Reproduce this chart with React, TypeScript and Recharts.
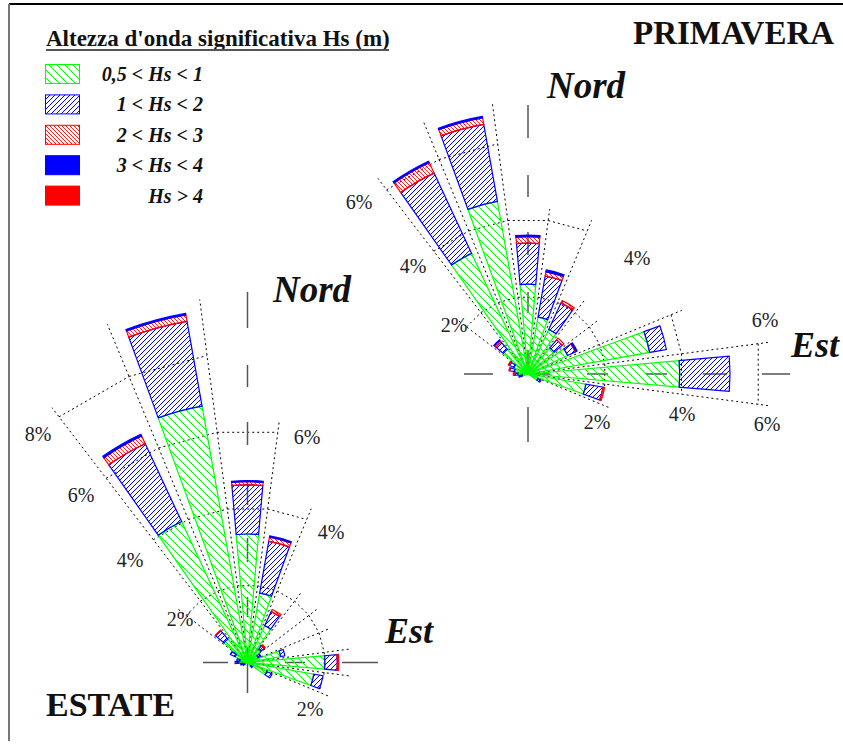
import React from 'react';
import { RadialBarChart, RadialBar, PolarAngleAxis, PolarRadiusAxis, Sector } from 'recharts';

// directions (degrees from north, clockwise), 15° bins
const directions = ['0', '15', '30', '45', '60', '75', '90', '105', '120', '135', '150', '165', '180', '195', '210', '225', '240', '255', '270', '285', '300', '315', '330', '345'];

// PRIMAVERA - frequency (%) per Hs class
const springLow = [2.32, 1.49, 1.27, 0.88, 1.13, 3.19, 3.92, 1.52, 0.28, 0, 0, 0, 0, 0, 0, 0, 0, 0.15, 0.26, 0.35, 0.4, 0.83, 3.44, 4.53];
const springMid = [1.06, 1.08, 0.75, 0.27, 0.22, 0.44, 1.3, 0.45, 0.09, 0, 0, 0, 0, 0, 0, 0, 0, 0.09, 0.1, 0.13, 0.14, 0.25, 2.29, 2.02];
const springHigh = [0.17, 0.11, 0.07, 0.06, 0.02, 0, 0, 0.04, 0, 0, 0, 0, 0, 0, 0, 0, 0, 0, 0.02, 0.02, 0.02, 0.05, 0.3, 0.17];
const springVeryHigh = [0.04, 0.05, 0, 0, 0.03, 0, 0, 0, 0, 0, 0, 0, 0, 0, 0, 0, 0, 0, 0, 0, 0, 0.02, 0.04, 0.04];
const springExtreme = [0, 0, 0, 0, 0, 0, 0, 0, 0, 0, 0, 0, 0, 0, 0, 0, 0, 0, 0, 0, 0, 0, 0, 0];

// ESTATE - frequency (%) per Hs class
const summerLow = [3.32, 1.82, 1.05, 0.45, 0.3, 0.87, 2.0, 1.74, 0.55, 0.12, 0, 0, 0, 0, 0, 0, 0.08, 0.12, 0.22, 0.2, 0.35, 0.79, 4.02, 6.73];
const summerMid = [1.27, 1.36, 0.4, 0.12, 0.08, 0.11, 0.32, 0.24, 0.15, 0.05, 0, 0, 0, 0, 0, 0, 0.05, 0.06, 0.1, 0.08, 0.14, 0.28, 2.22, 2.22];
const summerHigh = [0.08, 0.11, 0.06, 0.03, 0, 0, 0, 0, 0, 0, 0, 0, 0, 0, 0, 0, 0, 0, 0, 0, 0, 0.02, 0.22, 0.17];
const summerVeryHigh = [0.03, 0.03, 0, 0, 0, 0, 0, 0, 0, 0, 0, 0, 0, 0, 0, 0, 0, 0, 0, 0, 0, 0, 0.05, 0.04];
const summerExtreme = [0, 0, 0, 0, 0, 0, 0.04, 0, 0, 0, 0, 0, 0, 0, 0, 0, 0, 0, 0, 0, 0, 0, 0, 0];

const classLabels = ['0,5 < Hs < 1', '1 < Hs < 2', '2 < Hs < 3', '3 < Hs < 4', 'Hs > 4'];
const classKeys = ['low', 'mid', 'high', 'veryHigh', 'extreme'];
const classFills = ['url(#hGreen)', 'url(#hBlue)', 'url(#hRed)', '#0000ff', '#ff0000'];
const classStrokes = ['#00ff00', '#0000ff', '#ff0000', '#0000ff', '#ff0000'];

const ringLabelsSpring = [['6%', 359, 202], ['4%', 413, 266], ['2%', 454, 325], ['4%', 637, 258], ['6%', 765, 320], ['2%', 597, 422], ['4%', 682, 414], ['6%', 767, 424]];
const ringLabelsSummer = [['8%', 38, 434], ['6%', 81, 495], ['4%', 130, 560], ['2%', 180, 619], ['6%', 307, 437], ['4%', 331, 532], ['2%', 310, 709]];

const build = (a: number[], b: number[], c: number[], d: number[], e: number[]) =>
  directions.map((dir, i) => ({ dir, low: a[i], mid: b[i], high: c[i], veryHigh: d[i], extreme: e[i] }));

const springData = build(springLow, springMid, springHigh, springVeryHigh, springExtreme);
const summerData = build(summerLow, summerMid, summerHigh, summerVeryHigh, summerExtreme);

const K = 38.7; // px per 1%
const W = 843;
const H = 744;
const SPRING = { cx: 528, cy: 374 };
const SUMMER = { cx: 247.5, cy: 662.5 };

const springRings = [
  { level: 2, from: 307.5, to: 112.5 },
  { level: 4, from: 322.5, to: 22.5 },
  { level: 4, from: 67.5, to: 97.5 },
  { level: 6, from: 322.5, to: 352.5 },
  { level: 6, from: 82.5, to: 97.5 },
];
const summerRings = [
  { level: 2, from: 307.5, to: 112.5 },
  { level: 4, from: 322.5, to: 22.5 },
  { level: 6, from: 322.5, to: 7.5 },
  { level: 8, from: 322.5, to: 352.5 },
];

const springAxisV = [[105, 138], [175, 197], [232, 255], [292, 313], [350, 373], [407, 442]];
const springAxisH = [[464, 493], [530, 550], [587, 608], [646, 667], [703, 727], [762, 790]];
const summerAxisV = [[292, 328], [365, 387], [422, 445], [482, 505], [538, 562], [597, 617], [647, 693]];
const summerAxisH = [[203, 228], [236, 256], [285, 305], [342, 378]];

const pt = (cx: number, cy: number, pct: number, deg: number) => {
  const a = (deg * Math.PI) / 180;
  return [cx + pct * K * Math.sin(a), cy - pct * K * Math.cos(a)];
};

function RoseGrid({ cx, cy, data, rings }: any) {
  const norm = (x: number) => ((x % 360) + 360) % 360;
  const angles = directions.map(Number);
  const covered = (c: number, r: any) => norm(c - r.from) < norm(r.to - r.from);
  const totals = data.map((d: any) => d.low + d.mid + d.high + d.veryHigh + d.extreme);
  const top = angles.map((c) => Math.max(0, ...rings.filter((r: any) => covered(c, r)).map((r: any) => r.level)));
  const dot = { stroke: '#000', strokeWidth: 1, strokeDasharray: '2 3', fill: 'none' };
  const els: any[] = [];
  rings.forEach((r: any, ri: number) =>
    angles.forEach((c, i) => {
      if (!covered(c, r)) return;
      const [x1, y1] = pt(cx, cy, r.level, c - 7.5);
      const [x2, y2] = pt(cx, cy, r.level, c + 7.5);
      els.push(<line key={`c${ri}-${i}`} x1={x1} y1={y1} x2={x2} y2={y2} {...dot} />);
    })
  );
  angles.forEach((c, i) => {
    const j = (i + 23) % 24;
    const t = Math.max(top[i], top[j]);
    if (t <= 0) return;
    const len = Math.max(t, totals[i], totals[j]) + 0.3;
    const [x, y] = pt(cx, cy, len, c - 7.5);
    els.push(<line key={`r${i}`} x1={cx} y1={cy} x2={x} y2={y} {...dot} />);
  });
  return <g>{els}</g>;
}

function Axes({ cx, cy, v, h }: any) {
  const st = { stroke: '#555', strokeWidth: 1.5 };
  return (
    <g>
      {v.map((s: number[], i: number) => <line key={`v${i}`} x1={cx} x2={cx} y1={s[0]} y2={s[1]} {...st} />)}
      {h.map((s: number[], i: number) => <line key={`h${i}`} y1={cy} y2={cy} x1={s[0]} x2={s[1]} {...st} />)}
    </g>
  );
}

const makeShape = (fill: string, stroke: string) => (p: any) => {
  if (!(p.outerRadius - p.innerRadius > 0.1)) return <g />;
  return (
    <Sector cx={p.cx} cy={p.cy} innerRadius={p.innerRadius} outerRadius={p.outerRadius}
      startAngle={p.startAngle} endAngle={p.endAngle} fill={fill} stroke={stroke} strokeWidth={1.2} />
  );
};

function Rose({ data, cx, cy }: any) {
  return (
    <RadialBarChart width={W} height={H} data={data} layout="centric" cx={cx} cy={cy}
      innerRadius={0} outerRadius={10 * K} startAngle={82.5} endAngle={-277.5}
      barCategoryGap="17%" margin={{ top: 0, right: 0, bottom: 0, left: 0 }}>
      <PolarAngleAxis type="category" dataKey="dir" tick={false} axisLine={false} tickLine={false} />
      <PolarRadiusAxis type="number" domain={[0, 10]} allowDataOverflow tick={false} axisLine={false} />
      {classKeys.map((k, i) => (
        <RadialBar key={k} dataKey={k} stackId="a" fill={classFills[i]} stroke={classStrokes[i]}
          isAnimationActive={false} shape={makeShape(classFills[i], classStrokes[i])} />
      ))}
    </RadialBarChart>
  );
}

export default function App() {
  const serif = '"Liberation Serif", "Times New Roman", serif';
  const abs: React.CSSProperties = { position: 'absolute', left: 0, top: 0, width: W, height: H };
  return (
    <div style={{ ...abs, background: '#fff', fontFamily: serif }}>
      <svg width={0} height={0} style={{ position: 'absolute' }}>
        <defs>
          <pattern id="hGreen" patternUnits="userSpaceOnUse" width="8" height="8">
            <path d="M0,0 L8,8 M-1,7 L1,9 M7,-1 L9,1" stroke="#00ff00" strokeWidth="1" />
          </pattern>
          <pattern id="hBlue" patternUnits="userSpaceOnUse" width="5" height="5">
            <path d="M0,5 L5,0 M-1,1 L1,-1 M4,6 L6,4" stroke="#0000ff" strokeWidth="1" />
          </pattern>
          <pattern id="hRed" patternUnits="userSpaceOnUse" width="4" height="4">
            <path d="M0,0 L4,4 M-1,3 L1,5 M3,-1 L5,1" stroke="#ff0000" strokeWidth="0.9" />
          </pattern>
        </defs>
      </svg>
      <svg style={abs} width={W} height={H}>
        <line x1={9} y1={4} x2={W} y2={4} stroke="#000" strokeWidth={2} />
        <line x1={9} y1={4} x2={9} y2={741} stroke="#777" strokeWidth={2} />
        <RoseGrid cx={SPRING.cx} cy={SPRING.cy} data={springData} rings={springRings} />
        <RoseGrid cx={SUMMER.cx} cy={SUMMER.cy} data={summerData} rings={summerRings} />
        <Axes cx={SPRING.cx} cy={SPRING.cy} v={springAxisV} h={springAxisH} />
        <Axes cx={SUMMER.cx} cy={SUMMER.cy} v={summerAxisV} h={summerAxisH} />
      </svg>
      <div style={abs}><Rose data={summerData} cx={SUMMER.cx} cy={SUMMER.cy} /></div>
      <div style={abs}><Rose data={springData} cx={SPRING.cx} cy={SPRING.cy} /></div>
      <svg style={abs} width={W} height={H}>
        <text x={46} y={46} fontSize={23} fontWeight="bold" fill="#111">Altezza d'onda significativa Hs (m)</text>
        <line x1={46} x2={389} y1={50} y2={50} stroke="#555" strokeWidth={2} />
        {classLabels.map((lab, i) => (
          <g key={lab}>
            <rect x={45.5} y={64.5 + i * 30.4} width={34} height={19} fill={classFills[i]} stroke={classStrokes[i]} strokeWidth={1} />
            <text x={203} y={81 + i * 30.4} textAnchor="end" fontSize={20} fontWeight="bold" fontStyle="italic" fill="#111">{lab}</text>
          </g>
        ))}
        <text x={633} y={44} fontSize={33} fontWeight="bold" fill="#111">PRIMAVERA</text>
        <text x={46} y={716} fontSize={34} fontWeight="bold" fill="#111">ESTATE</text>
        <text x={547} y={98} fontSize={37} fontWeight="bold" fontStyle="italic" fill="#111">Nord</text>
        <text x={791} y={357} fontSize={36} fontWeight="bold" fontStyle="italic" fill="#111">Est</text>
        <text x={273} y={302} fontSize={37} fontWeight="bold" fontStyle="italic" fill="#111">Nord</text>
        <text x={385} y={643} fontSize={36} fontWeight="bold" fontStyle="italic" fill="#111">Est</text>
        {[...ringLabelsSpring, ...ringLabelsSummer].map((l: any, i) => (
          <text key={i} x={l[1]} y={l[2] + 7} textAnchor="middle" fontSize={20} fill="#222">{l[0]}</text>
        ))}
      </svg>
    </div>
  );
}
